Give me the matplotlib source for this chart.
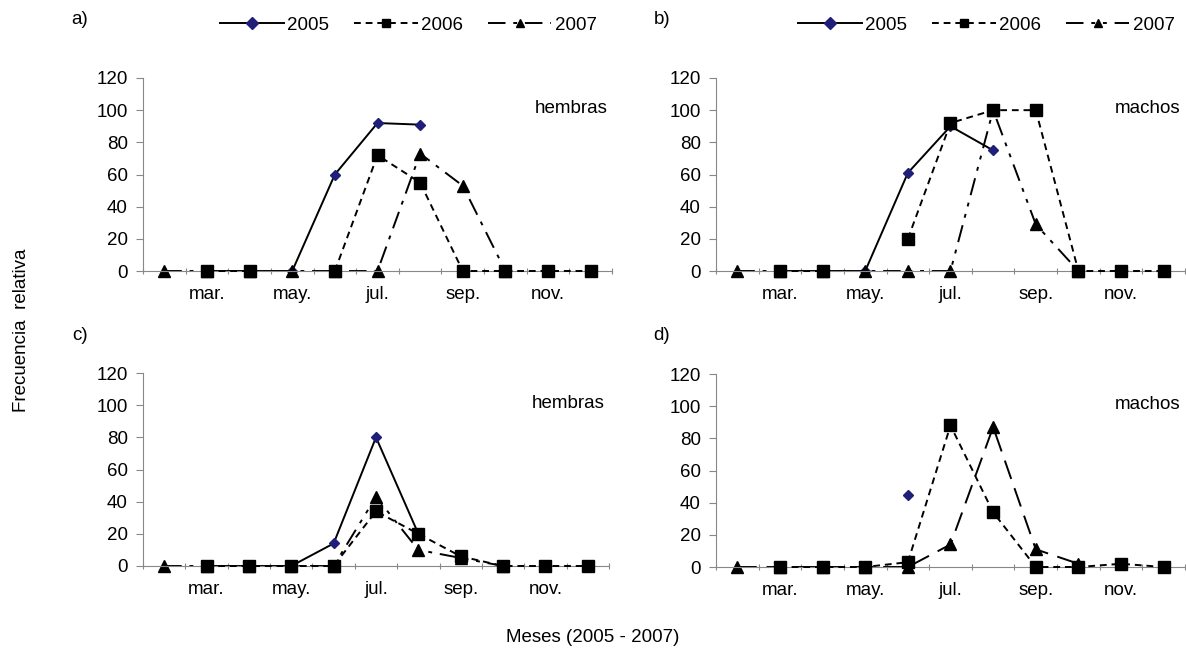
import numpy as np
import matplotlib.pyplot as plt

plt.rcParams['font.family'] = ['Liberation Sans', 'DejaVu Sans']

# Monthly series, feb..dec (index 0..10); nan = no sample
nan = np.nan
meses = ['mar.', 'may.', 'jul.', 'sep.', 'nov.']
mes_pos = [1, 3, 5, 7, 9]

a_2005 = [nan, 0, 0, 0, 60, 92, 91, nan, nan, nan, nan]
a_2006 = [nan, 0, 0, nan, 0, 72, 55, 0, 0, 0, 0]
a_2007 = [0, 0, 0, 0, 0, 0, 73, 53, 0, nan, nan]

b_2005 = [nan, 0, 0, 0, 61, 90, 75, nan, nan, nan, nan]
b_2006 = [nan, 0, 0, nan, 20, 92, 100, 100, 0, 0, 0]
b_2007 = [0, 0, 0, 0, 0, 0, 100, 29, 0, nan, nan]

c_2005 = [nan, 0, 0, 0, 14, 80, 20, nan, nan, nan, nan]
c_2006 = [nan, 0, 0, 0, 0, 34, 20, 6, 0, 0, 0]
c_2007 = [0, 0, 0, 0, 0, 43, 10, 5, 0, nan, nan]

d_2005 = [nan, nan, nan, nan, 45, nan, nan, nan, nan, nan, nan]
d_2006 = [nan, 0, 0, 0, 3, 88, 34, 0, 0, 2, 0]
d_2007 = [0, 0, 0, 0, 0, 14, 87, 11, 2, nan, nan]

FS = 13.5
fig = plt.figure(figsize=(11.86, 6.56), dpi=100)
W, H = 1186, 656

def make_ax(x0, x1, ytop, ybot):
    return fig.add_axes([x0 / W, 1 - ybot / H, (x1 - x0) / W, (ybot - ytop) / H])

panels = [
    (make_ax(143, 612, 78, 271), a_2005, a_2006, a_2007, 'hembras', (0, (9, 4, 2, 4))),
    (make_ax(716, 1185, 78, 271), b_2005, b_2006, b_2007, 'machos', (0, (9, 4, 2, 4, 2, 4))),
    (make_ax(143, 609, 373, 566), c_2005, c_2006, c_2007, 'hembras', (0, (9, 4, 2, 4, 2, 4))),
    (make_ax(716, 1185, 374, 567), d_2005, d_2006, d_2007, 'machos', (0, (10, 5))),
]

x = np.arange(11)
for ax, s05, s06, s07, sexo, ls07 in panels:
    ax.plot(x, s05, color='black', lw=1.4, marker='D', ms=5,
            mfc='#1f1f7a', mec='#1f1f7a', label='2005', clip_on=False, zorder=2)
    ax.plot(x, s06, color='black', lw=1.4, ls=(0, (3.5, 2.5)), marker='s', ms=8,
            mfc='black', mec='black', label='2006', clip_on=False, zorder=3)
    ax.plot(x, s07, color='black', lw=1.4, ls=ls07, marker='^', ms=8,
            mfc='black', mec='black', label='2007', clip_on=False, zorder=2.5)
    ax.set_xlim(-0.5, 10.5)
    ax.set_ylim(0, 120)
    ax.set_yticks(np.arange(0, 121, 20))
    ax.set_xticks(np.arange(-0.5, 10.6, 1))
    ax.set_xticklabels([])
    ax.set_xticks(mes_pos, minor=True)
    ax.set_xticklabels(meses, minor=True)
    ax.tick_params(axis='x', which='minor', length=0, pad=11, labelsize=FS)
    ax.tick_params(axis='x', which='major', length=5, color='#888888', direction='inout')
    ax.tick_params(axis='y', length=5, color='#888888', labelsize=FS, pad=6)
    for side in ['top', 'right']:
        ax.spines[side].set_visible(False)
    for side in ['left', 'bottom']:
        ax.spines[side].set_color('#888888')
    ax.text(0.99, 0.84, sexo, transform=ax.transAxes, ha='right', va='center', fontsize=FS)
    ax.patch.set_alpha(0)

for lab, (px, py) in zip(['a)', 'b)', 'c)', 'd)'], [(80, 20), (662, 20), (80, 336), (662, 336)]):
    fig.text(px / W, 1 - py / H, lab, fontsize=FS, ha='center', va='center')

# legends above the top panels
for ax, lx in [(panels[0][0], 614 / W), (panels[1][0], 1192 / W)]:
    handles = ax.get_lines()
    leg = fig.legend(handles, ['2005', '2006', '2007'], loc='center right',
                     bbox_to_anchor=(lx, 1 - 25 / H), ncol=3, frameon=False,
                     fontsize=FS, handlelength=3.4, handletextpad=0.2, columnspacing=1.3)
    for h in leg.legend_handles:
        h.set_markersize(6)

fig.text(22 / W, 1 - 330 / H, 'Frecuencia  relativa', rotation=90, ha='center', va='center', fontsize=FS)
fig.text(593 / W, 1 - 637 / H, 'Meses (2005 - 2007)', ha='center', va='center', fontsize=FS)

fig.savefig('out.png', dpi=100)
